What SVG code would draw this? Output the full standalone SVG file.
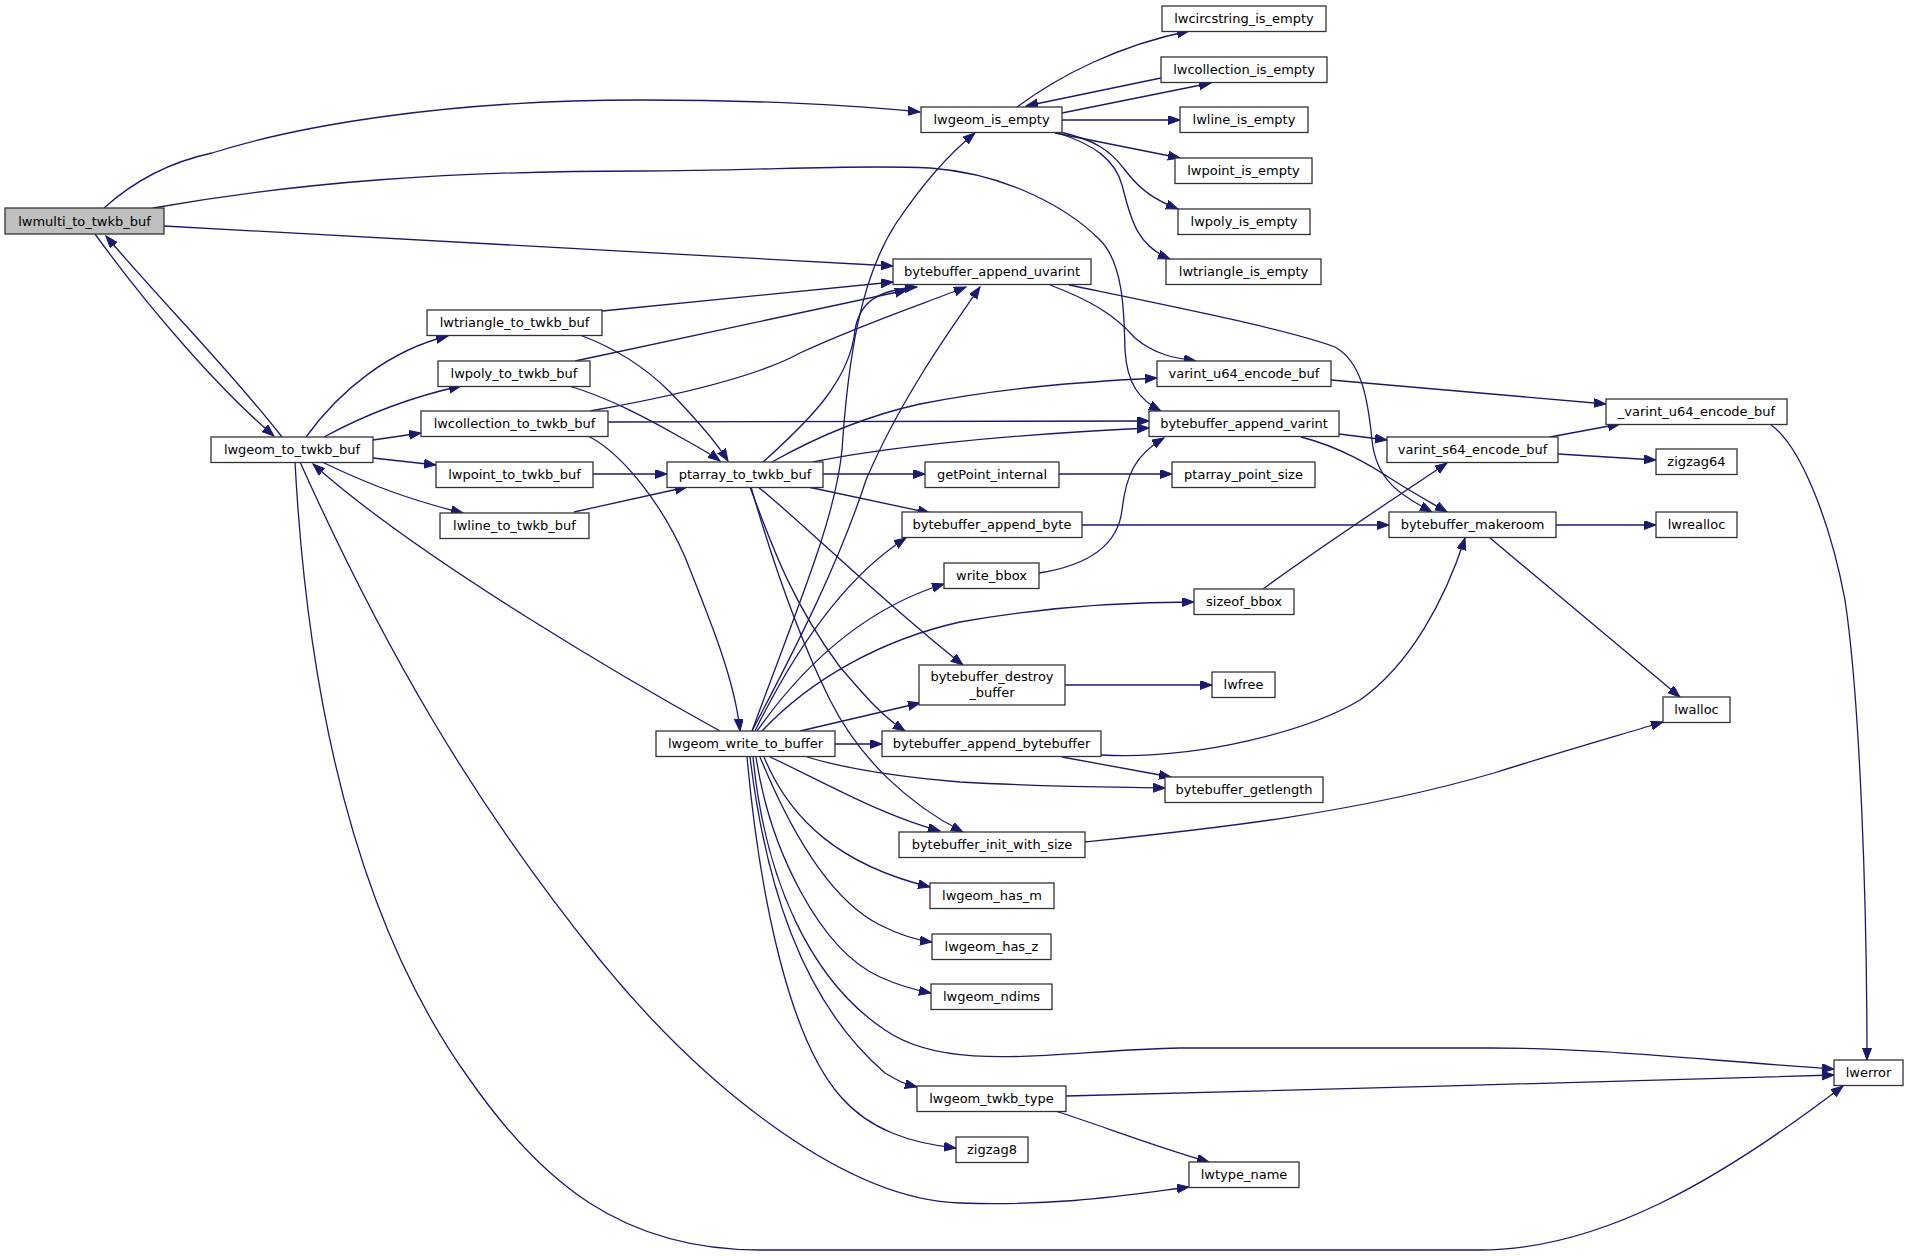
<svg xmlns="http://www.w3.org/2000/svg" width="1908" height="1256" viewBox="0 0 1908 1256">
<style>
.n rect{fill:#ffffff;stroke:#333333;stroke-width:1.3}
.n.root rect{fill:#bfbfbf}
.n text{font-family:"DejaVu Sans","Liberation Sans",sans-serif;font-size:13px;fill:#000000;text-anchor:middle}
.e path{fill:none;stroke:#191970;stroke-width:1.3;marker-end:url(#ah)}
</style>
<defs>
<marker id="ah" markerUnits="userSpaceOnUse" markerWidth="13" markerHeight="10" refX="12" refY="4.5" orient="auto">
<path d="M0,0 L12,4.5 L0,9 Z" fill="#191970" stroke="#191970" stroke-width="1"/>
</marker>
</defs>
<rect x="0" y="0" width="1908" height="1256" fill="#ffffff"/>
<g id="connectors" class="e">
<path d="M104,208 C135,180 170,162 212,153 C300,125 450,100 640,100 C760,100 850,105 920,112"/>
<path d="M153,208 C300,182 450,171 640,171 C760,171 850,164 930,168 C1010,174 1070,210 1100,240 C1125,265 1124,320 1125,350 C1127,385 1140,400 1161,411"/>
<path d="M164,226 L893,266"/>
<path d="M95,234 C150,310 220,390 274,436"/>
<path d="M282,437 C230,370 160,300 106,236"/>
<path d="M306,437 C340,390 390,350 448,336"/>
<path d="M324,437 C370,412 420,395 461,386"/>
<path d="M373,440 L421,433"/>
<path d="M373,458 L436,465"/>
<path d="M322,462 C370,485 410,500 463,513"/>
<path d="M295,462 C305,650 340,900 470,1080 C540,1180 620,1250 760,1250 L1480,1250 C1600,1250 1720,1180 1843,1086"/>
<path d="M300,462 C380,640 470,800 600,960 C710,1095 850,1200 960,1203 C1060,1206 1120,1196 1189,1187"/>
<path d="M720,731 C640,687 420,560 313,464"/>
<path d="M602,311 L893,282"/>
<path d="M580,335 C620,350 650,372 670,392 C695,418 715,440 728,461"/>
<path d="M575,361 L907,290"/>
<path d="M569,386 C610,398 650,420 680,437 C700,448 712,455 720,461"/>
<path d="M590,411 C680,395 760,375 800,353 C860,325 920,305 966,287"/>
<path d="M608,422 L1149,421"/>
<path d="M588,436 C620,452 660,500 685,557 C710,620 735,680 740,731"/>
<path d="M593,474 L667,474"/>
<path d="M574,512 L687,487"/>
<path d="M1017,107 C1060,75 1120,45 1189,31"/>
<path d="M1062,113 L1211,83"/>
<path d="M1161,78 L1026,106"/>
<path d="M1062,120 L1180,120"/>
<path d="M1055,133 L1180,158"/>
<path d="M1060,132 C1095,140 1110,150 1125,170 C1140,190 1155,200 1178,209"/>
<path d="M1058,133 C1095,145 1115,160 1122,185 C1130,215 1135,245 1170,259"/>
<path d="M752,731 C800,600 835,520 842,450 C848,360 860,280 895,225 C925,180 950,153 975,133"/>
<path d="M752,731 C800,640 840,560 866,480 C900,400 950,330 980,287"/>
<path d="M763,462 C810,420 850,380 855,330 C860,300 880,290 917,287"/>
<path d="M772,462 C820,435 870,415 920,404 C1000,388 1080,382 1157,378"/>
<path d="M813,462 C880,448 1000,435 1149,428"/>
<path d="M823,474 L925,474"/>
<path d="M808,487 L930,513"/>
<path d="M758,487 C800,520 880,600 963,665"/>
<path d="M750,487 C770,540 790,600 840,667 C860,690 880,715 905,731"/>
<path d="M751,487 C775,570 800,640 830,700 C860,760 910,805 963,832"/>
<path d="M1050,285 C1090,300 1115,315 1135,338 C1155,355 1175,358 1196,361"/>
<path d="M1069,285 C1180,308 1290,330 1335,347 C1362,362 1368,400 1372,440 C1376,480 1400,495 1432,512"/>
<path d="M1339,434 L1387,440"/>
<path d="M1301,437 C1340,447 1370,465 1393,480 C1415,494 1430,502 1447,512"/>
<path d="M1331,380 L1606,404"/>
<path d="M1550,437 L1620,424"/>
<path d="M1558,454 L1656,460"/>
<path d="M1771,425 C1800,445 1830,520 1845,600 C1860,700 1867,900 1867,1060"/>
<path d="M1059,474 L1172,474"/>
<path d="M1082,525 L1389,525"/>
<path d="M1039,573 C1090,565 1118,545 1122,510 C1126,475 1135,455 1164,438"/>
<path d="M1263,589 C1330,540 1400,495 1447,463"/>
<path d="M1065,685 L1212,685"/>
<path d="M1101,755 C1200,760 1310,730 1360,700 C1410,665 1445,600 1465,538"/>
<path d="M1062,757 L1171,777"/>
<path d="M1085,842 C1200,830 1350,815 1494,773 C1560,752 1620,735 1663,722"/>
<path d="M1556,525 L1656,525"/>
<path d="M1490,538 L1680,697"/>
<path d="M755,731 C790,660 840,580 906,538"/>
<path d="M757,731 C800,670 860,610 944,584"/>
<path d="M762,731 C810,680 880,640 960,622 C1050,606 1130,602 1194,602"/>
<path d="M800,731 L920,703"/>
<path d="M835,744 L882,744"/>
<path d="M807,757 C850,770 900,777 960,782 C1050,787 1120,787 1165,788"/>
<path d="M770,757 C820,780 880,815 940,831"/>
<path d="M764,757 C790,820 840,865 930,887"/>
<path d="M760,757 C790,830 830,900 880,925 C900,935 915,940 932,942"/>
<path d="M756,757 C770,850 820,950 880,977 C900,986 915,990 931,993"/>
<path d="M753,757 C765,880 810,980 885,1030 C950,1075 1060,1050 1180,1048 L1490,1048 C1600,1048 1700,1060 1834,1069"/>
<path d="M750,757 C765,880 800,1000 885,1073 C900,1082 905,1084 917,1087"/>
<path d="M747,757 C760,900 790,1040 841,1097 C870,1130 910,1143 956,1148"/>
<path d="M1066,1096 C1300,1090 1600,1082 1834,1075"/>
<path d="M1055,1111 C1100,1125 1150,1145 1209,1162"/>
</g>
<g id="lwmulti_to_twkb_buf" class="n root"><rect x="5" y="208" width="159" height="26"/><text x="84.5" y="225.5">lwmulti_to_twkb_buf</text></g>
<g id="lwgeom_to_twkb_buf" class="n"><rect x="211" y="437" width="162" height="25.5"/><text x="292" y="454.2">lwgeom_to_twkb_buf</text></g>
<g id="lwtriangle_to_twkb_buf" class="n"><rect x="427" y="310" width="175" height="25.5"/><text x="514.5" y="327.2">lwtriangle_to_twkb_buf</text></g>
<g id="lwpoly_to_twkb_buf" class="n"><rect x="438" y="361" width="152" height="25.5"/><text x="514" y="378.2">lwpoly_to_twkb_buf</text></g>
<g id="lwcollection_to_twkb_buf" class="n"><rect x="421" y="411" width="187" height="25.5"/><text x="514.5" y="428.2">lwcollection_to_twkb_buf</text></g>
<g id="lwpoint_to_twkb_buf" class="n"><rect x="436" y="462" width="157" height="25.5"/><text x="514.5" y="479.2">lwpoint_to_twkb_buf</text></g>
<g id="lwline_to_twkb_buf" class="n"><rect x="440" y="513" width="149" height="25.5"/><text x="514.5" y="530.2">lwline_to_twkb_buf</text></g>
<g id="ptarray_to_twkb_buf" class="n"><rect x="667" y="462" width="156" height="25.5"/><text x="745" y="479.2">ptarray_to_twkb_buf</text></g>
<g id="lwgeom_write_to_buffer" class="n"><rect x="656" y="731" width="179" height="25.5"/><text x="745.5" y="748.2">lwgeom_write_to_buffer</text></g>
<g id="lwgeom_is_empty" class="n"><rect x="921" y="107" width="141" height="25.5"/><text x="991.5" y="124.2">lwgeom_is_empty</text></g>
<g id="lwcircstring_is_empty" class="n"><rect x="1162" y="6" width="164" height="25.5"/><text x="1244" y="23.2">lwcircstring_is_empty</text></g>
<g id="lwcollection_is_empty" class="n"><rect x="1161" y="57" width="166" height="25.5"/><text x="1244" y="74.2">lwcollection_is_empty</text></g>
<g id="lwline_is_empty" class="n"><rect x="1180" y="107" width="128" height="25.5"/><text x="1244" y="124.2">lwline_is_empty</text></g>
<g id="lwpoint_is_empty" class="n"><rect x="1175" y="158" width="137" height="25.5"/><text x="1243.5" y="175.2">lwpoint_is_empty</text></g>
<g id="lwpoly_is_empty" class="n"><rect x="1178" y="209" width="132" height="25.5"/><text x="1244" y="226.2">lwpoly_is_empty</text></g>
<g id="lwtriangle_is_empty" class="n"><rect x="1166" y="259" width="155" height="25.5"/><text x="1243.5" y="276.2">lwtriangle_is_empty</text></g>
<g id="bytebuffer_append_uvarint" class="n"><rect x="893" y="259" width="198" height="25.5"/><text x="992" y="276.2">bytebuffer_append_uvarint</text></g>
<g id="varint_u64_encode_buf" class="n"><rect x="1157" y="361" width="174" height="25.5"/><text x="1244" y="378.2">varint_u64_encode_buf</text></g>
<g id="bytebuffer_append_varint" class="n"><rect x="1149" y="411" width="190" height="25.5"/><text x="1244" y="428.2">bytebuffer_append_varint</text></g>
<g id="getPoint_internal" class="n"><rect x="925" y="462" width="134" height="25.5"/><text x="992" y="479.2">getPoint_internal</text></g>
<g id="ptarray_point_size" class="n"><rect x="1172" y="462" width="143" height="25.5"/><text x="1243.5" y="479.2">ptarray_point_size</text></g>
<g id="bytebuffer_append_byte" class="n"><rect x="902" y="512" width="180" height="25.5"/><text x="992" y="529.2">bytebuffer_append_byte</text></g>
<g id="write_bbox" class="n"><rect x="944" y="563" width="95" height="25.5"/><text x="991.5" y="580.2">write_bbox</text></g>
<g id="sizeof_bbox" class="n"><rect x="1194" y="589" width="100" height="25.5"/><text x="1244" y="606.2">sizeof_bbox</text></g>
<g id="bytebuffer_destroy_buffer" class="n"><rect x="919" y="665" width="146" height="40"/><text x="992" y="681">bytebuffer_destroy</text><text x="992" y="696.5">_buffer</text></g>
<g id="lwfree" class="n"><rect x="1212" y="672" width="63" height="25.5"/><text x="1243.5" y="689.2">lwfree</text></g>
<g id="bytebuffer_append_bytebuffer" class="n"><rect x="882" y="731" width="219" height="25.5"/><text x="991.5" y="748.2">bytebuffer_append_bytebuffer</text></g>
<g id="bytebuffer_getlength" class="n"><rect x="1165" y="777" width="158" height="25.5"/><text x="1244" y="794.2">bytebuffer_getlength</text></g>
<g id="bytebuffer_init_with_size" class="n"><rect x="899" y="832" width="186" height="25.5"/><text x="992" y="849.2">bytebuffer_init_with_size</text></g>
<g id="lwgeom_has_m" class="n"><rect x="930" y="883" width="124" height="25.5"/><text x="992" y="900.2">lwgeom_has_m</text></g>
<g id="lwgeom_has_z" class="n"><rect x="932" y="934" width="119" height="25.5"/><text x="991.5" y="951.2">lwgeom_has_z</text></g>
<g id="lwgeom_ndims" class="n"><rect x="931" y="984" width="121" height="25.5"/><text x="991.5" y="1001.2">lwgeom_ndims</text></g>
<g id="lwgeom_twkb_type" class="n"><rect x="917" y="1086" width="149" height="25.5"/><text x="991.5" y="1103.2">lwgeom_twkb_type</text></g>
<g id="zigzag8" class="n"><rect x="956" y="1137" width="72" height="25.5"/><text x="992" y="1154.2">zigzag8</text></g>
<g id="lwtype_name" class="n"><rect x="1189" y="1162" width="110" height="25.5"/><text x="1244" y="1179.2">lwtype_name</text></g>
<g id="_varint_u64_encode_buf" class="n"><rect x="1606" y="399" width="181" height="25.5"/><text x="1696.5" y="416.2">_varint_u64_encode_buf</text></g>
<g id="varint_s64_encode_buf" class="n"><rect x="1387" y="437" width="171" height="25.5"/><text x="1472.5" y="454.2">varint_s64_encode_buf</text></g>
<g id="zigzag64" class="n"><rect x="1656" y="449" width="81" height="25.5"/><text x="1696.5" y="466.2">zigzag64</text></g>
<g id="bytebuffer_makeroom" class="n"><rect x="1389" y="512" width="167" height="25.5"/><text x="1472.5" y="529.2">bytebuffer_makeroom</text></g>
<g id="lwrealloc" class="n"><rect x="1656" y="512" width="81" height="25.5"/><text x="1696.5" y="529.2">lwrealloc</text></g>
<g id="lwalloc" class="n"><rect x="1663" y="697" width="67" height="25.5"/><text x="1696.5" y="714.2">lwalloc</text></g>
<g id="lwerror" class="n"><rect x="1834" y="1060" width="69" height="25.5"/><text x="1868.5" y="1077.2">lwerror</text></g>
</svg>
